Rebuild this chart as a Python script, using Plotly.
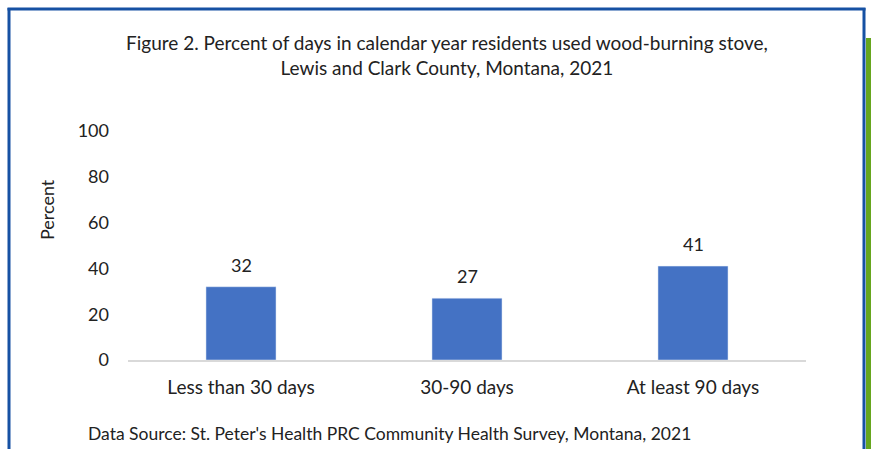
import plotly.graph_objects as go

categories = ["Less than 30 days", "30-90 days", "At least 90 days"]
values = [32, 27, 41]
y_ticks = [0, 20, 40, 60, 80, 100]

title_text = ("Figure 2. Percent of days in calendar year residents used wood-burning stove,"
              "<br>Lewis and Clark County, Montana, 2021")
source_text = "Data Source: St. Peter's Health PRC Community Health Survey, Montana, 2021"

W, H = 871, 449
L, R, T, B = 128, 65, 131, 89
pw, ph = W - L - R, H - T - B

def px(x):
    return (x - L) / pw

def py(y):
    return (H - B - y) / ph

FONT = "Lato"
TXT = "#222222"
BORDER = "#1651A3"

fig = go.Figure(go.Bar(
    x=categories, y=values, marker_color="#4472C4", width=0.31,
    hoverinfo="skip",
))

annotations = [
    dict(x=c, y=v, xref="x", yref="y", text=str(v), showarrow=False,
         xanchor="center", yanchor="bottom", yshift=9,
         font=dict(size=18, color=TXT, family=FONT))
    for c, v in zip(categories, values)
]
annotations += [
    dict(text=title_text, xref="paper", yref="paper", x=px(447), y=py(55),
         xanchor="center", yanchor="middle", showarrow=False,
         font=dict(size=19, color=TXT, family=FONT)),
    dict(text=source_text, xref="paper", yref="paper", x=px(86), y=py(433),
         xanchor="left", yanchor="middle", showarrow=False,
         font=dict(size=17.5, color=TXT, family=FONT)),
    dict(text="Percent", xref="paper", yref="paper", x=px(47), y=py(210),
         xanchor="center", yanchor="middle", textangle=-90, showarrow=False,
         font=dict(size=18, color=TXT, family=FONT)),
]

shapes = [
    dict(type="line", xref="paper", yref="paper", x0=px(9), x1=px(9), y0=py(8), y1=py(449), line=dict(color=BORDER, width=3)),
    dict(type="line", xref="paper", yref="paper", x0=px(7.5), x1=px(865.5), y0=py(9), y1=py(9), line=dict(color=BORDER, width=3)),
    dict(type="line", xref="paper", yref="paper", x0=px(864), x1=px(864), y0=py(8), y1=py(449), line=dict(color=BORDER, width=3)),
    dict(type="rect", xref="paper", yref="paper", x0=px(866), x1=px(871), y0=py(38), y1=py(449), line=dict(width=0), fillcolor="#66A61E"),
]

fig.update_layout(
    width=W, height=H,
    margin=dict(l=L, r=R, t=T, b=B),
    paper_bgcolor="white", plot_bgcolor="white",
    font=dict(family=FONT, size=18, color=TXT),
    showlegend=False,
    hovermode=False,
    shapes=shapes,
    annotations=annotations,
    xaxis=dict(showgrid=False, showline=True, linecolor="#D9D9D9", linewidth=1.5,
               ticks="", tickfont=dict(size=19), zeroline=False, ticklabelstandoff=9),
    yaxis=dict(range=[0, 100], tickvals=y_ticks, showgrid=False, showline=False,
               zeroline=False, ticks="", tickfont=dict(size=18), ticklabelstandoff=18),
)

fig.write_html(
    "out.html",
    config={"displayModeBar": False},
    post_script="document.body.style.margin='0';document.body.style.overflow='hidden';",
)
